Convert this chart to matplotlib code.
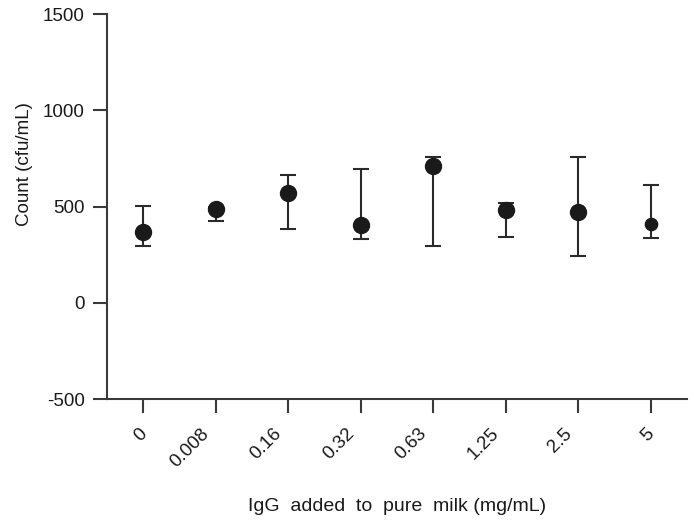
import matplotlib
matplotlib.use("Agg")
import matplotlib.pyplot as plt
import matplotlib.transforms as mtrans
import numpy as np

categories = ["0", "0.008", "0.16", "0.32", "0.63", "1.25", "2.5", "5"]
means = [370, 488, 570, 402, 713, 481, 474, 410]
upper = [504, 500, 665, 695, 755, 518, 757, 613]
lower = [294, 424, 383, 334, 294, 343, 243, 336]
yticks = [-500, 0, 500, 1000, 1500]

plt.rcParams['font.family'] = ['Liberation Sans', 'DejaVu Sans']
fig = plt.figure(figsize=(6.94, 5.21), dpi=100)
ax = fig.add_axes([0.1542, 0.234, 0.8357, 0.739])

x = np.arange(len(categories))
m = np.array(means)
yerr = np.vstack([m - np.array(lower), np.array(upper) - m])
col = "#1a1a1a"
ms = [11.5] * len(categories)
ms[-1] = 8.8
ax.errorbar(x, m, yerr=yerr, fmt="none", ecolor="#2a2a2a", elinewidth=1.5,
            capsize=5.6, capthick=1.5, zorder=2)
for xi, yi, s in zip(x, m, ms):
    ax.plot([xi], [yi], "o", color=col, markersize=s, zorder=3)

ax.set_xlim(-0.5, 7.5)
ax.set_ylim(-500, 1500)

for s in ["top", "right"]:
    ax.spines[s].set_visible(False)
for s in ["left", "bottom"]:
    ax.spines[s].set_linewidth(1.5)
    ax.spines[s].set_color("#3a3a3a")
ax.tick_params(axis="y", direction="out", length=10, width=1.5, color="#3a3a3a",
               pad=6, labelsize=13.5, labelcolor="#1a1a1a")
ax.tick_params(axis="x", direction="out", length=10, width=1.5, color="#3a3a3a",
               pad=13, labelsize=13.5, labelcolor="#1a1a1a")

ax.set_yticks(yticks)
ax.set_yticklabels([str(t) for t in yticks])
ax.set_xticks(x)
ax.set_xticklabels(categories)
for lab in ax.get_xticklabels():
    dx = -9 if len(lab.get_text()) > 1 else 1
    shift = mtrans.ScaledTranslation(dx / 100, 0, fig.dpi_scale_trans)
    lab.set_rotation(45)
    lab.set_ha("right")
    lab.set_va("center")
    lab.set_rotation_mode("anchor")
    lab.set_transform(lab.get_transform() + shift)

ax.set_ylabel("Count (cfu/mL)", fontsize=13.5, color="#1a1a1a")
ax.yaxis.set_label_coords(-0.127, 0.61)
ax.set_xlabel("IgG  added  to  pure  milk (mg/mL)", fontsize=14, color="#1a1a1a")
ax.xaxis.set_label_coords(0.5, -0.258)

fig.savefig("out.png", dpi=100)
